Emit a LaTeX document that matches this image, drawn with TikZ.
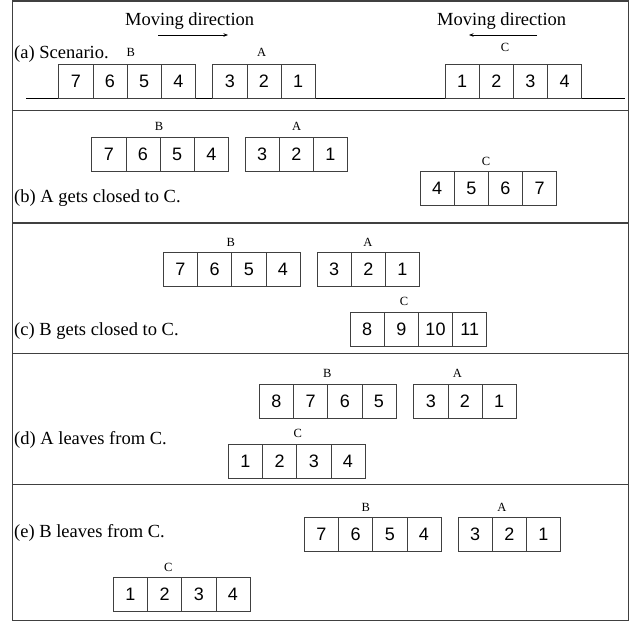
\documentclass[tikz,border=0pt]{standalone}
\usepackage{fontspec}
\setmainfont{Liberation Serif}
\newfontfamily\sansf{Liberation Sans}
\usetikzlibrary{arrows.meta}
\newcommand{\mytrain}[4]{%
  \foreach \v [count=\i] in {#4} {
    \node[cell] (#1\i) at ({#2+(\i-0.5)*34.2},{#3+17}) {\v};
  }}
\tikzset{
  cell/.style={draw=black!75, line width=0.8pt, minimum width=34.2pt, minimum height=34pt,
    inner sep=0pt, font=\sansf\fontsize{18}{20}\selectfont},
  lab/.style={anchor=base, inner sep=0pt, font=\fontsize{12.5}{14}\selectfont},
  ptext/.style={anchor=base west, inner sep=0pt, font=\fontsize{18.5}{21}\selectfont},
  frameline/.style={draw=black!75, line width=1.1pt},
  movarrow/.style={line width=0.7pt, -{Stealth[length=4.5pt,width=3.5pt]}}
}
\begin{document}
\begin{tikzpicture}[x=1pt,y=-1pt]
\useasboundingbox (0,0) rectangle (638,622);
% frame and separators
\draw[frameline] (12.7,1) rectangle (628.7,620.7);
\coordinate (s1l) at (12.7,110.7); \coordinate (s1r) at (628.7,110.7);
\coordinate (s2l) at (12.7,223); \coordinate (s2r) at (628.7,223);
\coordinate (s3l) at (12.7,353.3); \coordinate (s3r) at (628.7,353.3);
\coordinate (s4l) at (12.7,484.3); \coordinate (s4r) at (628.7,484.3);
\draw[frameline] (s1l) -- (s1r);
\draw[frameline] (s2l) -- (s2r);
\draw[frameline] (s3l) -- (s3r);
\draw[frameline] (s4l) -- (s4r);

% ---------- panel (a)
\coordinate (gl) at (26,98.3); \coordinate (gr) at (625,98.3);
\draw[black, line width=0.9pt] (gl) -- (gr);
\node[ptext] (mdl) at (125,25) {Moving direction};
\node[ptext] (mdr) at (437,25) {Moving direction};
\coordinate (a1s) at (158,35); \coordinate (a1e) at (228,35);
\coordinate (a2s) at (537,35); \coordinate (a2e) at (469,35);
\draw[movarrow] (a1s) -- (a1e);
\draw[movarrow] (a2s) -- (a2e);
\node[ptext] (ta) at (14,58) {(a) Scenario.};
\node[lab] (aBl) at (130.7,56.7) {B};
\node[lab] (aAl) at (261.7,56.7) {A};
\node[lab] (aCl) at (505,51.7) {C};
\mytrain{aB}{58.7}{64}{7,6,5,4}
\mytrain{aA}{212.7}{64}{3,2,1}
\mytrain{aC}{445}{64}{1,2,3,4}

% ---------- panel (b)
\node[ptext] (tb) at (14,202) {(b) A gets closed to C.};
\node[lab] (bBl) at (159,130.7) {B};
\node[lab] (bAl) at (296.7,130.7) {A};
\node[lab] (bCl) at (486,165) {C};
\mytrain{bB}{91.7}{137.7}{7,6,5,4}
\mytrain{bA}{245}{137.7}{3,2,1}
\mytrain{bC}{420}{171.7}{4,5,6,7}

% ---------- panel (c)
\node[ptext] (tc) at (14,335.5) {(c) B gets closed to C.};
\node[lab] (cBl) at (230.7,246) {B};
\node[lab] (cAl) at (368,246) {A};
\node[lab] (cCl) at (404,305.3) {C};
\mytrain{cB}{163.3}{252.7}{7,6,5,4}
\mytrain{cA}{317}{252.7}{3,2,1}
\mytrain{cC}{350}{312.3}{8,9,10,11}

% ---------- panel (d)
\node[ptext] (td) at (14,444) {(d) A leaves from C.};
\node[lab] (dBl) at (327.3,377.3) {B};
\node[lab] (dAl) at (457.3,377.3) {A};
\node[lab] (dCl) at (297.7,437.3) {C};
\mytrain{dB}{259.3}{384.3}{8,7,6,5}
\mytrain{dA}{413.7}{384.3}{3,2,1}
\mytrain{dC}{228.3}{444.3}{1,2,3,4}

% ---------- panel (e)
\node[ptext] (te) at (14,537.7) {(e) B leaves from C.};
\node[lab] (eBl) at (365.7,511) {B};
\node[lab] (eAl) at (502,511) {A};
\node[lab] (eCl) at (168.3,571) {C};
\mytrain{eB}{304.3}{517.7}{7,6,5,4}
\mytrain{eA}{458}{517.7}{3,2,1}
\mytrain{eC}{113.3}{577.7}{1,2,3,4}
\end{tikzpicture}
\end{document}
